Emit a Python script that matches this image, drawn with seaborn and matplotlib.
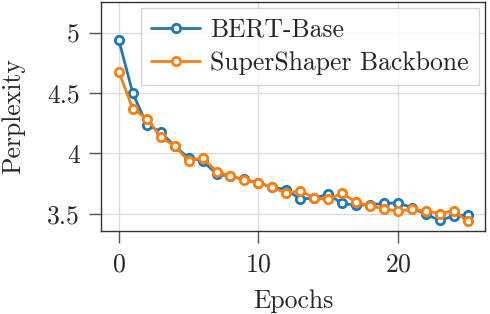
import numpy as np
import pandas as pd
import matplotlib
matplotlib.use("Agg")
import matplotlib.pyplot as plt
from matplotlib.ticker import FuncFormatter
import seaborn as sns

# values
epochs = list(range(26))
bert_base = [4.94, 4.50, 4.24, 4.18, 4.06, 3.965, 3.94, 3.83, 3.81, 3.785,
             3.755, 3.72, 3.70, 3.62, 3.63, 3.66, 3.585, 3.57, 3.575, 3.585,
             3.59, 3.55, 3.495, 3.445, 3.48, 3.49]
supershaper = [4.68, 4.37, 4.29, 4.14, 4.06, 3.94, 3.965, 3.85, 3.81, 3.78,
               3.755, 3.72, 3.67, 3.69, 3.63, 3.62, 3.67, 3.595, 3.565, 3.54,
               3.52, 3.535, 3.525, 3.50, 3.525, 3.435]
series_names = ["BERT-Base", "SuperShaper Backbone"]

df = pd.DataFrame({
    "Epochs": epochs * 2,
    "Perplexity": bert_base + supershaper,
    "model": [series_names[0]] * len(epochs) + [series_names[1]] * len(epochs),
})

sns.set_theme(style="ticks")
plt.rcParams.update({
    "font.family": "serif",
    "font.serif": ["cmr10"],
    "mathtext.fontset": "cm",
    "axes.formatter.use_mathtext": True,
    "font.size": 18.5,
    "axes.edgecolor": "#333333",
    "axes.linewidth": 1.0,
})

fig, ax = plt.subplots(figsize=(4.9, 3.14), dpi=100)
fig.subplots_adjust(left=0.207, right=0.990, bottom=0.264, top=0.994)

sns.lineplot(data=df, x="Epochs", y="Perplexity", hue="model",
             palette=["#1f77b4", "#ff7f0e"], marker="o", markersize=6,
             markerfacecolor="white", markeredgewidth=2.0, linewidth=2.0,
             ax=ax)
for line in ax.lines:
    line.set_markeredgecolor(line.get_color())

ax.set_ylim(3.355, 5.26)
ax.set_xticks([0, 10, 20])
ax.set_yticks([3.5, 4, 4.5, 5])
ax.yaxis.set_major_formatter(FuncFormatter(lambda v, p: f"{v:g}"))
ax.grid(True, color="#dddddd", linewidth=1.0)
ax.tick_params(length=8.5, width=1.0, color="#555555", labelsize=18.5, pad=7)
ax.set_xlabel("Epochs", fontsize=18.5, labelpad=9)
ax.set_ylabel("Perplexity", fontsize=18.5, labelpad=16)

leg = ax.legend(loc="upper right", fontsize=18.5, fancybox=False,
                framealpha=0.8, edgecolor="#cccccc", borderpad=0.38,
                labelspacing=0.36, handlelength=1.9, handletextpad=0.4,
                borderaxespad=0.25)
leg.get_frame().set_linewidth(1.0)
for h in leg.get_lines():
    h.set_markerfacecolor("white")
    h.set_markeredgecolor(h.get_color())

plt.savefig("out.png", dpi=100)
